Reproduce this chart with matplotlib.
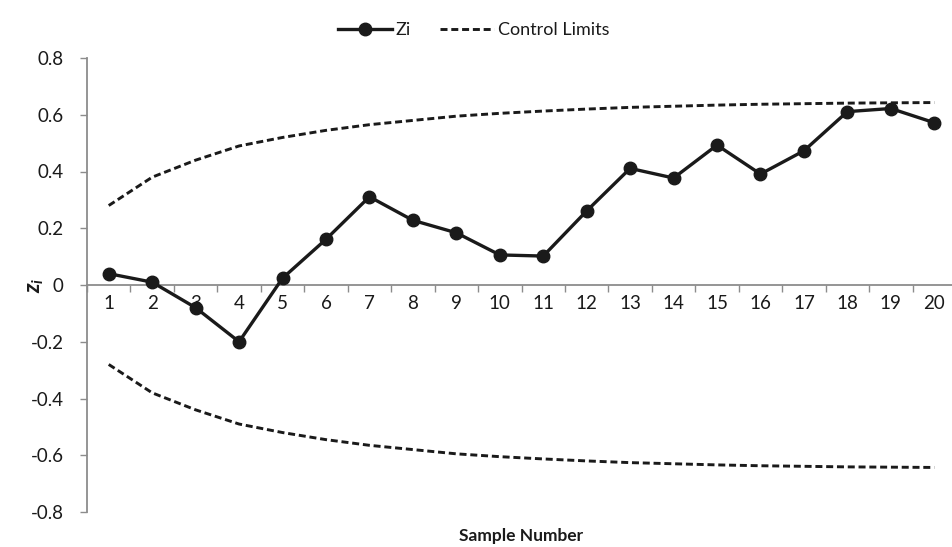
import matplotlib
matplotlib.use("Agg")
import matplotlib.pyplot as plt
from matplotlib.ticker import FixedLocator

# ── Data ──────────────────────────────────────────────────────────────────────
samples = list(range(1, 21))
zi = [0.04, 0.01, -0.08, -0.20, 0.024, 0.161, 0.311, 0.228, 0.184, 0.106,
      0.102, 0.261, 0.411, 0.377, 0.493, 0.391, 0.473, 0.611, 0.622, 0.572]
ucl = [0.28, 0.38, 0.44, 0.49, 0.52, 0.545, 0.565, 0.58, 0.595, 0.605,
       0.613, 0.62, 0.626, 0.63, 0.634, 0.637, 0.639, 0.641, 0.642, 0.643]
lcl = [-v for v in ucl]
yticks = [-0.8, -0.6, -0.4, -0.2, 0, 0.2, 0.4, 0.6, 0.8]
ytick_labels = ["-0.8", "-0.6", "-0.4", "-0.2", "0", "0.2", "0.4", "0.6", "0.8"]

plt.rcParams["font.family"] = ["Lato", "DejaVu Sans"]
plt.rcParams["mathtext.fontset"] = "custom"
plt.rcParams["mathtext.it"] = "Lato:italic:bold"
plt.rcParams["mathtext.rm"] = "Lato"

TXT = "#1a1a1a"
AX = "#8c8c8c"

fig = plt.figure(figsize=(9.52, 5.47), dpi=100)
ax = fig.add_axes([87 / 952, 1 - 512 / 547, (956 - 87) / 952, (512 - 58) / 547])

ax.plot(samples, zi, color="#1a1a1a", lw=2.4, marker="o", ms=9, label="Zi",
        zorder=3)
ax.plot(samples, ucl, color="#1a1a1a", lw=2.1, ls=(0, (2.4, 1.3)),
        label="Control Limits", zorder=2)
ax.plot(samples, lcl, color="#1a1a1a", lw=2.1, ls=(0, (2.4, 1.3)), zorder=2)

ax.set_xlim(0.5, 20.5)
ax.set_ylim(-0.8, 0.8)

# ── Axes styling (Excel-like) ─────────────────────────────────────────────────
for s in ["top", "right"]:
    ax.spines[s].set_visible(False)
ax.spines["bottom"].set_position(("data", 0))
ax.spines["bottom"].set_color(AX)
ax.spines["left"].set_color(AX)
ax.spines["bottom"].set_linewidth(1.3)
ax.spines["left"].set_linewidth(1.3)

ax.set_xticks(samples)
ax.set_xticklabels([str(s) for s in samples])
ax.xaxis.set_minor_locator(FixedLocator([i + 0.5 for i in range(0, 21)]))
ax.tick_params(axis="x", which="major", length=0, pad=7, labelsize=13.5,
               labelcolor=TXT)
ax.tick_params(axis="x", which="minor", length=5, width=1, color=AX,
               direction="out")

ax.set_yticks(yticks)
ax.set_yticklabels(ytick_labels)
ax.tick_params(axis="y", length=5, width=1, color=AX, labelsize=13.5,
               labelcolor=TXT, pad=12)

ax.set_xlabel("Sample Number", fontsize=12.5, fontweight="bold", color=TXT)
ax.xaxis.set_label_coords(0.5, -0.035)
ax.set_ylabel(r"$z_i$", fontsize=16, color=TXT, rotation=90)
ax.yaxis.set_label_coords(-0.047, 0.5)

ax.legend(loc="upper center", bbox_to_anchor=(0.445, 1 + 52 / 454),
          ncol=2, frameon=False, fontsize=13, handlelength=3.0,
          columnspacing=1.6, handletextpad=0.2, labelcolor=TXT)

fig.savefig("out.png", dpi=100)
